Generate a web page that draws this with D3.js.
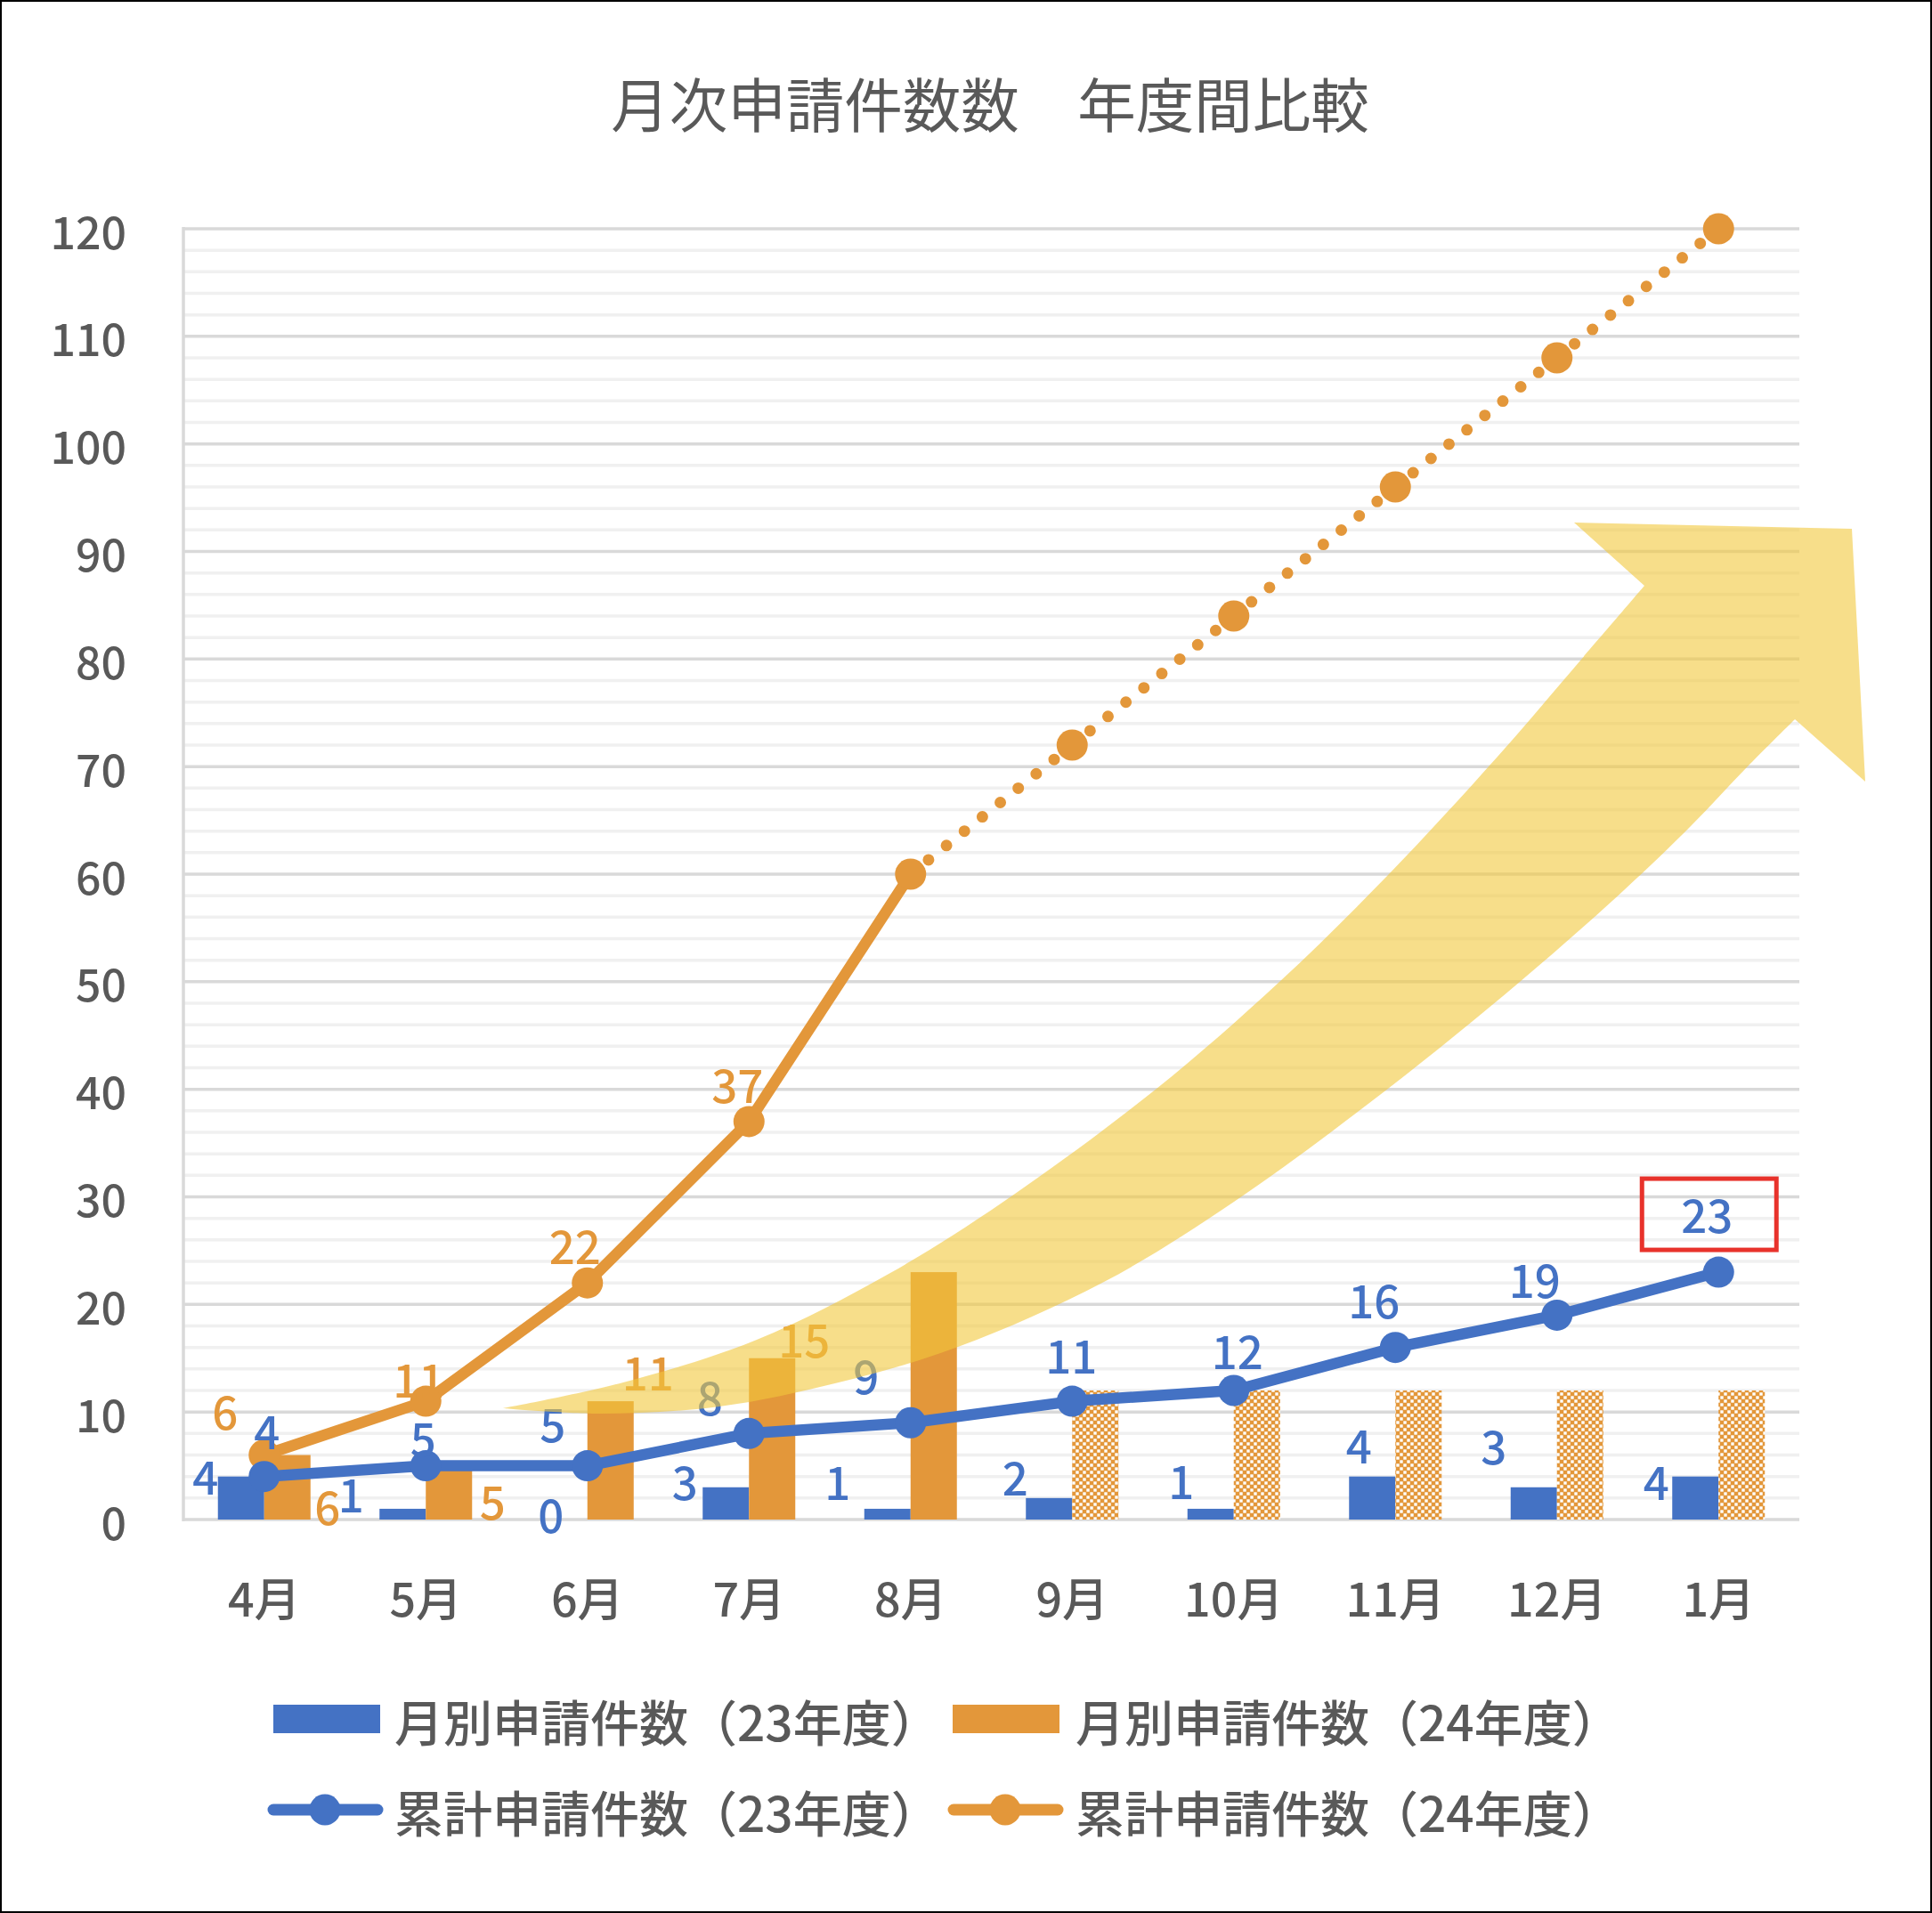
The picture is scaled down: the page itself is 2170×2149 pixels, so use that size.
<!DOCTYPE html>
<html><head><meta charset="utf-8">
<script src="https://cdn.jsdelivr.net/npm/d3@7"></script>
<style>
html,body{margin:0;padding:0;background:#fff;}
svg{display:block;}
text{font-family:"Noto Sans CJK JP","Noto Sans",sans-serif;}
</style></head><body>
<svg id="chart" width="2170" height="2149"></svg>
<script>
// ---------------- data ----------------
const title = "月次申請件数数　年度間比較";
const months = ["4月","5月","6月","7月","8月","9月","10月","11月","12月","1月"];
const monthly23 = [4,1,0,3,1,2,1,4,3,4];
const monthly24 = [6,5,11,15,23,12,12,12,12,12];
const monthly24Projected = [false,false,false,false,false,true,true,true,true,true];
const cumulative23 = [4,5,5,8,9,11,12,16,19,23];
const cumulative24 = [6,11,22,37,60,72,84,96,108,120];
const cumulative24LastActual = 4; // 8月: dotted afterwards
const yTicks = [0,10,20,30,40,50,60,70,80,90,100,110,120];
const monthly24Labelled = [true,true,true,true,false,false,false,false,false,false];
const cumulative24Labelled = [true,true,true,true,false,false,false,false,false,false];
const legendLabels = ["月別申請件数（23年度）","月別申請件数（24年度）","累計申請件数（23年度）","累計申請件数（24年度）"];
const highlightIndex = 9; // boxed label on cumulative23

// ---------------- styling / placement (not data) ----------------
const BLUE = "#4472C4", ORANGE = "#E3973A", GRAY_TEXT = "#595959";
const W = 2170, H = 2149;
const plot = {left: 206, right: 2021, top: 257, bottom: 1707};
// label nudges in px relative to (category centre, value position)
const nudgeBar23 = [[-66,-2],[-84,-18],[-41,-7],[-72,-8],[-82,-32],[-64,-25],[-59,-33],[-41,-37],[-71,-48],[-70,4]];
const nudgeBar24 = [[71,56],[75,38],[68,-34],[62,-23]];
const nudgeCum23 = [[3,-53],[-3,-33],[-39,-49],[-44,-42],[-50,-54],[-1,-53],[4,-46],[-24,-55],[-25,-41],[-13,-66]];
const nudgeCum24 = [[-44,-51],[-8,-26],[-14,-43],[-13,-43]];
// decorative arrow outline in pixel space of the plot (annotation, not data)
const arrowUpperPx = [[565,1582],[700,1553],[850,1505],[1000,1430],[1127,1350],[1299,1223],[1437,1103],[1559,983],[1682,850],[1775,742],[1847,658]];
const arrowHeadPx = [[1768,587],[2080,594],[2095,878],[2016,808]];
const arrowLowerPx = [[2016,808],[1961,863],[1900,927],[1824,1000],[1707,1103],[1559,1223],[1386,1350],[1240,1440],[1076,1513],[942,1553],[808,1580],[674,1588],[565,1582]];

const svg = d3.select("#chart");
svg.append("rect").attr("width",W).attr("height",H).attr("fill","#fff");

const defs = svg.append("defs");
const pat = defs.append("pattern").attr("id","checker").attr("width",8).attr("height",8).attr("patternUnits","userSpaceOnUse");
pat.append("rect").attr("width",8).attr("height",8).attr("fill",ORANGE);
pat.append("rect").attr("x",4.3).attr("y",0.3).attr("width",3.4).attr("height",3.4).attr("fill","#fff");
pat.append("rect").attr("x",0.3).attr("y",4.3).attr("width",3.4).attr("height",3.4).attr("fill","#fff");

const x = d3.scaleBand().domain(months).range([plot.left, plot.right]).padding(0);
const y = d3.scaleLinear().domain([0,120]).range([plot.bottom, plot.top]);
const cx = i => x(months[i]) + x.bandwidth()/2;
const barW = 52;

// title
svg.append("text").attr("x",1112).attr("y",114).attr("text-anchor","middle").attr("dominant-baseline","central")
  .attr("font-size",65.5).attr("fill",GRAY_TEXT).text(title);

// gridlines
const minor = d3.range(0,121,2).filter(v => v % 10 !== 0);
svg.append("g").selectAll("line").data(minor).join("line")
  .attr("x1",plot.left).attr("x2",plot.right).attr("y1",d=>y(d)).attr("y2",d=>y(d))
  .attr("stroke","#f0f0f0").attr("stroke-width",3.5);
svg.append("g").selectAll("line").data(yTicks).join("line")
  .attr("x1",plot.left).attr("x2",plot.right).attr("y1",d=>y(d)).attr("y2",d=>y(d))
  .attr("stroke","#d9d9d9").attr("stroke-width",3.5);
svg.append("line").attr("x1",plot.left).attr("x2",plot.left).attr("y1",plot.top-2).attr("y2",plot.bottom+2)
  .attr("stroke","#d9d9d9").attr("stroke-width",3.5);

// y axis
const yAxis = d3.axisLeft(y).tickValues(yTicks).tickSize(0).tickPadding(0);
const gy = svg.append("g").attr("transform",`translate(142,0)`).call(yAxis);
gy.select(".domain").remove();
gy.selectAll("text").attr("font-size",50).attr("font-weight",500).attr("fill",GRAY_TEXT).attr("dy",null).attr("dominant-baseline","central")
  .attr("font-family",'"Noto Sans CJK JP",sans-serif');

// x axis
const xAxis = d3.axisBottom(x).tickSize(0).tickPadding(0);
const gx = svg.append("g").attr("transform",`translate(0,1793)`).call(xAxis);
gx.select(".domain").remove();
gx.selectAll("text").attr("font-size",52).attr("font-weight",500).attr("fill",GRAY_TEXT).attr("dy",null).attr("y",0).attr("dominant-baseline","central")
  .attr("font-family",'"Noto Sans CJK JP",sans-serif');

// bars
svg.append("g").selectAll("rect").data(monthly23).join("rect")
  .attr("x",(d,i)=>cx(i)-barW).attr("width",barW)
  .attr("y",d=>y(d)).attr("height",d=>y(0)-y(d)).attr("fill",BLUE);
svg.append("g").selectAll("rect").data(monthly24).join("rect")
  .attr("x",(d,i)=>cx(i)).attr("width",barW)
  .attr("y",d=>y(d)).attr("height",d=>y(0)-y(d))
  .attr("fill",(d,i)=>monthly24Projected[i] ? "url(#checker)" : ORANGE);

// lines
const lineGen = d3.line().x(d=>cx(d.i)).y(d=>y(d.v));
const c24 = cumulative24.map((v,i)=>({v,i}));
const c23 = cumulative23.map((v,i)=>({v,i}));
svg.append("path").attr("d",lineGen(c24.slice(0,cumulative24LastActual+1)))
  .attr("fill","none").attr("stroke",ORANGE).attr("stroke-width",12.5).attr("stroke-linejoin","round");
svg.append("path").attr("d",lineGen(c24.slice(cumulative24LastActual)))
  .attr("fill","none").attr("stroke",ORANGE).attr("stroke-width",13).attr("stroke-linecap","round")
  .attr("stroke-dasharray","0 25.8");
svg.append("g").selectAll("circle").data(c24).join("circle")
  .attr("cx",d=>cx(d.i)).attr("cy",d=>y(d.v)).attr("r",17.5).attr("fill",ORANGE);
svg.append("path").attr("d",lineGen(c23))
  .attr("fill","none").attr("stroke",BLUE).attr("stroke-width",12.5).attr("stroke-linejoin","round");
svg.append("g").selectAll("circle").data(c23).join("circle")
  .attr("cx",d=>cx(d.i)).attr("cy",d=>y(d.v)).attr("r",17.5).attr("fill",BLUE);

// data labels
function labels(values, nudges, color, show){
  const g = svg.append("g");
  values.forEach((v,i)=>{
    if (show && !show[i]) return;
    const n = nudges[i];
    g.append("text").attr("x",cx(i)+n[0]).attr("y",y(v)+n[1])
      .attr("text-anchor","middle").attr("dominant-baseline","central")
      .attr("font-size",51).attr("font-weight",500).attr("fill",color).text(v);
  });
}
labels(monthly23, nudgeBar23, BLUE);
labels(monthly24, nudgeBar24, ORANGE, monthly24Labelled);
labels(cumulative23, nudgeCum23, BLUE);
labels(cumulative24, nudgeCum24, ORANGE, cumulative24Labelled);

// highlight box around last cumulative23 label
{
  const n = nudgeCum23[highlightIndex];
  const lx = cx(highlightIndex)+n[0], ly = y(cumulative23[highlightIndex])+n[1];
  svg.append("rect").attr("x",lx-73).attr("y",ly-39).attr("width",151).attr("height",80)
    .attr("fill","none").attr("stroke","#E8322B").attr("stroke-width",5);
}

// decorative arrow
{
  const curve = d3.line().curve(d3.curveCatmullRom.alpha(0.5));
  const up = curve(arrowUpperPx);
  const head = arrowHeadPx.map(p=>`L${p[0]},${p[1]}`).join("");
  const low = curve(arrowLowerPx).replace(/^M/,"L");
  svg.append("path").attr("d", up + head + low + "Z")
    .attr("fill","rgb(242,200,60)").attr("fill-opacity",0.6);
}

// legend
{
  const g = svg.append("g");
  const items = [
    {type:"bar", color:BLUE, x:307, y:1931, tx:443},
    {type:"bar", color:ORANGE, x:1070, y:1931, tx:1208},
    {type:"line", color:BLUE, x:302, y:2033, tx:443},
    {type:"line", color:ORANGE, x:1066, y:2033, tx:1208}
  ];
  items.forEach((it,k)=>{
    if (it.type==="bar") {
      g.append("rect").attr("x",it.x).attr("y",it.y-16).attr("width",120).attr("height",32).attr("fill",it.color);
    } else {
      g.append("line").attr("x1",it.x+5).attr("x2",it.x+122).attr("y1",it.y).attr("y2",it.y)
        .attr("stroke",it.color).attr("stroke-width",13).attr("stroke-linecap","round");
      g.append("circle").attr("cx",it.x+63).attr("cy",it.y).attr("r",17.5).attr("fill",it.color);
    }
    g.append("text").attr("x",it.tx).attr("y",it.y+1).attr("dominant-baseline","central")
      .attr("font-size",55).attr("font-weight",500).attr("fill",GRAY_TEXT).text(legendLabels[k]);
  });
}

// outer frame
svg.append("rect").attr("x",1).attr("y",1).attr("width",W-2).attr("height",H-2)
  .attr("fill","none").attr("stroke","#000").attr("stroke-width",2);
</script>
</body></html>
